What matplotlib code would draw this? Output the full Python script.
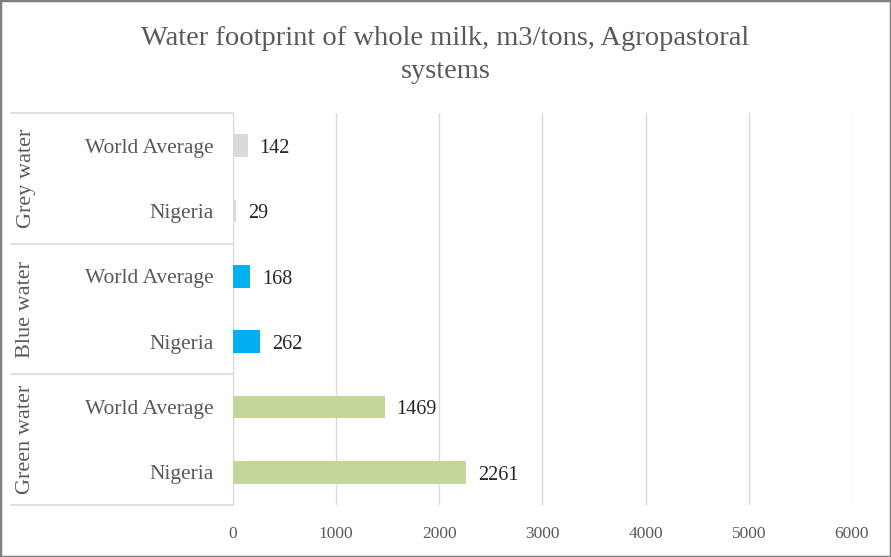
import matplotlib.pyplot as plt
import matplotlib.transforms as mtransforms
from matplotlib.patches import Rectangle

# data, top to bottom as in the chart
groups = ['Grey water', 'Blue water', 'Green water']
regions = ['World Average', 'Nigeria']
values = [142, 29, 168, 262, 1469, 2261]
colors = ['#d9d9d9', '#d9d9d9', '#00b0f0', '#00b0f0', '#c4d79b', '#c4d79b']
xticks = [0, 1000, 2000, 3000, 4000, 5000, 6000]

plt.rcParams['font.family'] = ['Liberation Serif', 'DejaVu Serif']

W, H = 891, 557
fig = plt.figure(figsize=(W / 100, H / 100), dpi=100)
fig.patches.append(Rectangle((0, 0), 1, 1, transform=fig.transFigure,
                             fill=False, edgecolor='#7f7f7f', linewidth=2.5))

left, right, top, bottom = 233, 852, 113, 505
ax = fig.add_axes([left / W, 1 - bottom / H, (right - left) / W, (bottom - top) / H])

n = len(values)
ypos = list(range(n))
ax.barh(ypos, values, height=0.35, color=colors, zorder=3)
ax.set_ylim(n - 0.5, -0.5)
ax.set_xlim(0, 6000)

for y, v in zip(ypos, values):
    ax.annotate(str(v), (v, y), xytext=(8.5, -2), textcoords='offset points',
                va='center', ha='left', fontsize=14.5, color='#262626')

labels = [r for g in groups for r in regions]
ax.set_yticks(ypos)
ax.set_yticklabels(labels, fontsize=15.5, color='#595959')
ax.tick_params(axis='y', length=0, pad=14)

ax.set_xticks(xticks)
ax.set_xticklabels([str(t) for t in xticks], fontsize=12.5, color='#595959')
ax.tick_params(axis='x', length=0, pad=15)

ax.grid(axis='x', color='#d9d9d9', linewidth=1, zorder=0)
for side in ['top', 'right', 'bottom']:
    ax.spines[side].set_visible(False)
ax.spines['left'].set_color('#d9d9d9')

# group boxes on the category axis
trans = mtransforms.blended_transform_factory(fig.transFigure, ax.transData)
for k in range(len(groups) + 1):
    yb = 2 * k - 0.5
    ax.plot([11 / W, left / W], [yb, yb], transform=trans, color='#d9d9d9',
            linewidth=1.2, clip_on=False)
for k, g in enumerate(groups):
    ax.text(26 / W, 2 * k + 0.5, g, transform=trans, rotation=90,
            ha='center', va='center', fontsize=16, color='#595959')

fig.text(0.5, 1 - 55 / H, 'Water footprint of whole milk, m3/tons, Agropastoral\nsystems',
         ha='center', va='center', fontsize=20.5, color='#595959', linespacing=1.4)

fig.savefig('out.png', dpi=100)
